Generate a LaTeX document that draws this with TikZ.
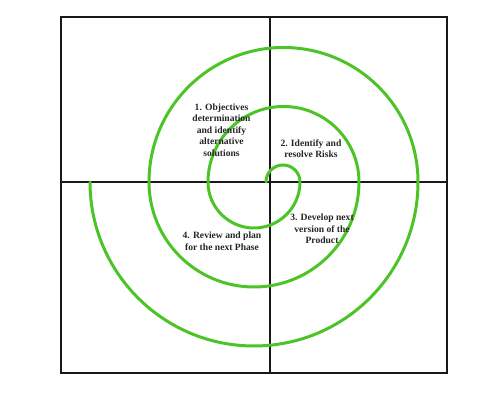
\documentclass[tikz,border=0pt]{standalone}
\usepackage{fontspec}
\setmainfont{Liberation Serif}
\definecolor{spiralgreen}{RGB}{76,196,40}
\definecolor{framegrey}{RGB}{25,25,25}
\begin{document}
\begin{tikzpicture}[x=1pt,y=1pt,
  frameline/.style={draw=framegrey,line width=2.2pt},
  spiralline/.style={draw=spiralgreen,line width=3pt,line cap=round},
  lbl/.style={font=\bfseries\fontsize{9.6}{11.6}\selectfont,align=center,inner sep=0pt,text=black!85}]
\useasboundingbox (0,0) rectangle (493,414);
% frame and axes (y measured upward: y_up = 414 - y_down)
\coordinate (tl) at (61,397);
\coordinate (br) at (447,41);
\coordinate (vt) at (270,397);
\coordinate (vb) at (270,41);
\coordinate (hl) at (61,232);
\coordinate (hr) at (447,232);
\draw[frameline] (tl) rectangle (br);
\draw[frameline,line width=2pt] (vt) -- (vb);
\draw[frameline,line width=2pt] (hl) -- (hr);
% spiral
\coordinate (s0) at (266,232);
\draw[spiralline] (s0)
  arc[start angle=180,end angle=0,radius=17]
  arc[start angle=0,end angle=-180,radius=46]
  arc[start angle=180,end angle=0,radius=75.5]
  arc[start angle=0,end angle=-180,radius=105]
  arc[start angle=180,end angle=0,radius=134.5]
  arc[start angle=0,end angle=-180,radius=164];
% labels
\node[lbl] (q1) at (221.5,284) {1. Objectives\\determination\\and identify\\alternative\\solutions};
\node[lbl] (q2) at (311,265.5) {2. Identify and\\resolve Risks};
\node[lbl] (q3) at (322,185) {3. Develop next\\version of the\\Product};
\node[lbl] (q4) at (222,173) {4. Review and plan\\for the next Phase};
\end{tikzpicture}
\end{document}
